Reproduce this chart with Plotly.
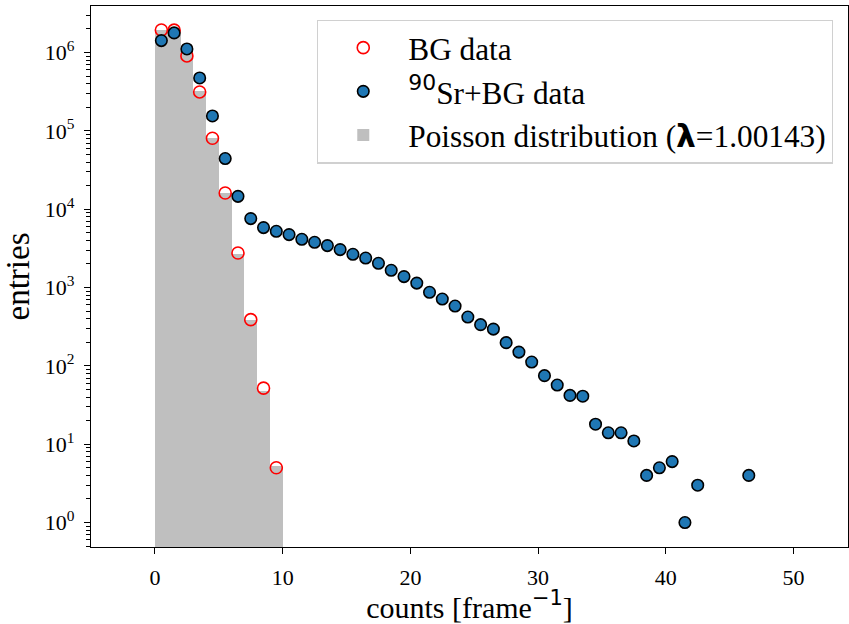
import plotly.graph_objects as go

# ---- data ----
bg_x = [0.5, 1.5, 2.5, 3.5, 4.5, 5.5, 6.5, 7.5, 8.5, 9.5]
bg_y = [1.94e6, 1.93e6, 9.05e5, 3.14e5, 8.04e4, 1.61e4, 2.76e3, 389, 52, 5]

poisson_x = [0.5, 1.5, 2.5, 3.5, 4.5, 5.5, 6.5, 7.5, 8.5, 9.5]
poisson_y = [1.92e6, 1.92e6, 9.6e5, 3.2e5, 8.0e4, 1.6e4, 2.68e3, 383, 48, 5.3]

sr_x = [0.5, 1.5, 2.5, 3.5, 4.5, 5.5, 6.5, 7.5, 8.5, 9.5,
        10.5, 11.5, 12.5, 13.5, 14.5, 15.5, 16.5, 17.5, 18.5, 19.5,
        20.5, 21.5, 22.5, 23.5, 24.5, 25.5, 26.5, 27.5, 28.5, 29.5,
        30.5, 31.5, 32.5, 33.5, 34.5, 35.5, 36.5, 37.5, 38.5, 39.5,
        40.5, 41.5, 42.5, 46.5]
sr_y = [1.42e6, 1.78e6, 1.11e6, 4.74e5, 1.55e5, 4.43e4, 1.46e4, 7.59e3, 5.82e3, 5.22e3,
        4.74e3, 4.13e3, 3.78e3, 3.43e3, 3.05e3, 2.66e3, 2.38e3, 2.04e3, 1.66e3, 1.38e3,
        1.14e3, 869, 713, 581, 420, 336, 295, 198, 150, 112,
        75, 57, 42, 41, 18, 14, 14, 11, 4, 5,
        6, 1, 3, 4]

x_ticks = [0, 10, 20, 30, 40, 50]
y_tickvals = [1, 10, 100, 1e3, 1e4, 1e5, 1e6]
y_ticktext = ["10<sup>0</sup>", "10<sup>1</sup>", "10<sup>2</sup>", "10<sup>3</sup>",
              "10<sup>4</sup>", "10<sup>5</sup>", "10<sup>6</sup>"]

SERIF = "Liberation Serif"

fig = go.Figure()

fig.add_trace(go.Scatter(
    x=bg_x, y=bg_y, mode="markers", name="BG data", legendgroup="a",
    marker=dict(symbol="circle-open", size=12, color="red", line=dict(width=1.6, color="red")),
))
fig.add_trace(go.Scatter(
    x=sr_x, y=sr_y, mode="markers", legendgroup="b",
    name="<span style='font-family:DejaVu Sans'><sup>90</sup></span>Sr+BG data",
    marker=dict(symbol="circle", size=11.5, color="#1f77b4", line=dict(width=1.6, color="black")),
))
fig.add_trace(go.Bar(
    x=poisson_x, y=poisson_y, width=1, legendgroup="c",
    name="Poisson distribution (<span style='font-family:DejaVu Sans'><b>λ</b></span>=1.00143)",
    marker=dict(color="#bfbfbf", line=dict(width=0)),
))

axis_common = dict(
    showline=True, linecolor="black", linewidth=1.3, mirror=True,
    ticks="outside", ticklen=6, tickwidth=1.3, tickcolor="black",
    showgrid=False, zeroline=False,
    tickfont=dict(family=SERIF, size=22, color="black"),
)

fig.update_layout(
    width=849, height=624,
    margin=dict(l=91, r=1, t=6, b=77, autoexpand=False),
    paper_bgcolor="white", plot_bgcolor="white",
    bargap=0,
    font=dict(family=SERIF, color="black"),
    xaxis=dict(
        range=[-5.01, 54.27], tickvals=x_ticks, ticktext=[str(v) for v in x_ticks],
        title=dict(text="counts [frame<span style='font-family:DejaVu Sans'><sup>−1</sup></span>]",
                   font=dict(family=SERIF, size=30, color="black"), standoff=5),
        ticklabelstandoff=4,
        **axis_common,
    ),
    yaxis=dict(
        type="log", range=[-0.312, 6.594],
        tickvals=y_tickvals, ticktext=y_ticktext,
        title=dict(text="entries", font=dict(family=SERIF, size=33, color="black"), standoff=8),
        ticklabelstandoff=5,
        minor=dict(ticks="outside", ticklen=3.5, tickwidth=1.0, tickcolor="black", dtick="D1", showgrid=False),
        **axis_common,
    ),
    legend=dict(
        x=0.2985, y=0.975, xanchor="left", yanchor="top",
        bgcolor="rgba(255,255,255,0.85)", bordercolor="#d0d0d0", borderwidth=1.3,
        font=dict(family=SERIF, size=31.3, color="black"),
        itemwidth=80, tracegroupgap=3, traceorder="normal",
    ),
    showlegend=True,
)

fig.write_html("out.html")
